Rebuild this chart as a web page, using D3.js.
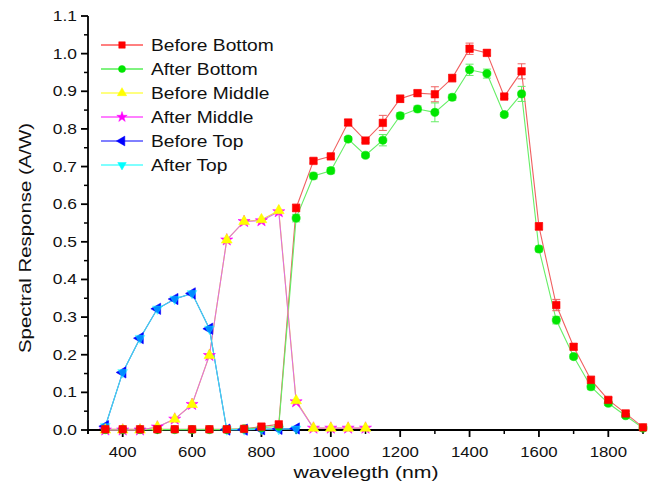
<!DOCTYPE html>
<html>
<head>
<meta charset="utf-8">
<script src="https://cdn.jsdelivr.net/npm/d3@7"></script>
<style>
  html, body { margin: 0; padding: 0; background: #fff; }
  svg { display: block; font-family: Arial, "Liberation Sans", sans-serif; }
</style>
</head>
<body>
<svg id="chart" width="651" height="493"></svg>
<script>
// Wavelength grids (nm)
const wlBottom = [350,400,450,500,550,600,650,700,750,800,850,900,950,1000,1050,1100,1150,1200,1250,1300,1350,1400,1450,1500,1550,1600,1650,1700,1750,1800,1850,1900];
const wlMiddle = [350,400,450,500,550,600,650,700,750,800,850,900,950,1000,1050,1100];
const wlTop = [350,400,450,500,550,600,650,700,750,800,850,900];

// Spectral response (A/W)
const beforeBottom = [0.002,0.002,0.002,0.002,0.002,0.002,0.002,0.002,0.003,0.009,0.015,0.59,0.715,0.727,0.817,0.769,0.816,0.88,0.895,0.892,0.935,1.013,1.002,0.886,0.953,0.541,0.332,0.221,0.133,0.08,0.044,0.007];
const afterBottom  = [0.001,0.001,0.001,0.001,0.001,0.001,0.001,0.001,0.003,0.006,0.01,0.563,0.675,0.689,0.773,0.73,0.77,0.835,0.853,0.844,0.884,0.957,0.947,0.838,0.893,0.481,0.292,0.195,0.115,0.071,0.038,0.005];
const beforeBottomErr = [0,0,0,0,0,0,0,0,0,0,0,0.01,0.006,0.006,0.008,0.005,0.02,0.01,0.008,0.02,0.01,0.015,0.008,0.005,0.02,0.01,0.015,0.008,0.01,0.006,0.006,0.003];
const afterBottomErr  = [0,0,0,0,0,0,0,0,0,0,0,0.01,0.008,0.008,0.006,0.005,0.015,0.008,0.008,0.025,0.008,0.015,0.012,0.005,0.02,0.008,0.01,0.006,0.008,0.006,0.005,0.003];
const beforeMiddle = [0,0,0,0.008,0.029,0.068,0.198,0.505,0.554,0.559,0.583,0.078,0.005,0.005,0.005,0.005];
const afterMiddle  = [0,0,0,0.008,0.029,0.068,0.198,0.505,0.554,0.556,0.58,0.075,0.005,0.005,0.005,0.005];
const beforeTop = [0.01,0.153,0.244,0.322,0.348,0.363,0.269,0.001,0.001,0.002,0.003,0.004];
const afterTop  = [0.01,0.153,0.244,0.322,0.348,0.363,0.269,0.001,0.001,0.002,0.002,0.003];

const seriesNames = ["Before Bottom","After Bottom","Before Middle","After Middle","Before Top","After Top"];
const xTicks = [400,600,800,1000,1200,1400,1600,1800];
const yTicks = [0,0.1,0.2,0.3,0.4,0.5,0.6,0.7,0.8,0.9,1.0,1.1];

// order: the list below is the legend order; `layer` sets marker stacking
const series = [
  {name: seriesNames[0], x: wlBottom, y: beforeBottom, err: beforeBottomErr, color: "#ff0000", line: "#f06060", sym: d3.symbolSquare, size: 56, rot: 0, layer: 6, op: 1},
  {name: seriesNames[1], x: wlBottom, y: afterBottom, err: afterBottomErr, color: "#00e600", line: "#66ee66", sym: d3.symbolCircle, size: 52, rot: 0, layer: 5, op: 1},
  {name: seriesNames[2], x: wlMiddle, y: beforeMiddle, color: "#ffff00", line: "#f2e040", sym: d3.symbolTriangle, size: 50, rot: 0, layer: 4, op: 1},
  {name: seriesNames[3], x: wlMiddle, y: afterMiddle, color: "#ff00ff", line: "#e070e0", sym: d3.symbolStar, size: 45, rot: 0, layer: 3, op: 1},
  {name: seriesNames[4], x: wlTop, y: beforeTop, color: "#0000ff", line: "#4060e0", sym: d3.symbolTriangle, size: 55, rot: -90, layer: 1, op: 1},
  {name: seriesNames[5], x: wlTop, y: afterTop, color: "#00ffff", line: "#40d8f0", sym: d3.symbolTriangle, size: 42, rot: 180, layer: 2, op: 0.55}
];

const svg = d3.select("#chart");
const m = {left: 88, right: 643, top: 16, bottom: 430};
const stretch = 1.2;   // wide lettering used throughout the figure

const x = d3.scaleLinear().domain([300, 1900]).range([m.left, m.right]);
const y = d3.scaleLinear().domain([0, 1.1]).range([m.bottom, m.top]);

// Places a horizontally widened label at (px, py), optionally rotated
function label(parent, px, py, txt, size, anchor, rot = 0, sx = stretch) {
  return parent.append("text")
    .attr("transform", `translate(${px},${py}) rotate(${rot}) scale(${sx},1)`)
    .attr("text-anchor", anchor).attr("font-size", size).attr("fill", "#111").text(txt);
}

// Axes: major ticks labelled, minor ticks between
const xAxis = svg.append("g").attr("transform", `translate(0,${m.bottom})`);
xAxis.append("line").attr("x1", m.left - 1).attr("x2", m.right).attr("stroke", "#000").attr("stroke-width", 1.8);
const xMinor = d3.range(300, 1901, 200);
xAxis.selectAll(".xminor").data(xMinor).join("line")
  .attr("x1", d => x(d)).attr("x2", d => x(d)).attr("y1", 0).attr("y2", 4)
  .attr("stroke", "#000").attr("stroke-width", 1.5);
xAxis.selectAll(".xmajor").data(xTicks).join("line")
  .attr("x1", d => x(d)).attr("x2", d => x(d)).attr("y1", 0).attr("y2", 7)
  .attr("stroke", "#000").attr("stroke-width", 1.8);
xTicks.forEach(t => label(xAxis, x(t), 27, t, 15, "middle", 0, 1.12));

const yAxis = svg.append("g").attr("transform", `translate(${m.left},0)`);
yAxis.append("line").attr("y1", m.top).attr("y2", m.bottom + 4).attr("stroke", "#000").attr("stroke-width", 1.8);
const yMinor = d3.range(0.05, 1.1, 0.1);
yAxis.selectAll(".yminor").data(yMinor).join("line")
  .attr("y1", d => y(d)).attr("y2", d => y(d)).attr("x1", 0).attr("x2", -4)
  .attr("stroke", "#000").attr("stroke-width", 1.5);
yAxis.selectAll(".ymajor").data(yTicks).join("line")
  .attr("y1", d => y(d)).attr("y2", d => y(d)).attr("x1", 0).attr("x2", -7)
  .attr("stroke", "#000").attr("stroke-width", 1.8);
yTicks.forEach(t => label(yAxis, -11, y(t) + 5, t.toFixed(1), 14.5, "end"));

// Axis titles
label(svg, 366, 478, "wavelegth (nm)", 17, "middle", 0, 1.25);
label(svg, 31, 238, "Spectral Response (A/W)", 17, "middle", -90, 1.2);

const line = d3.line().x(d => x(d[0])).y(d => y(d[1]));
const plot = svg.append("g");

// Connecting lines
series.forEach(s => {
  const pts = s.x.map((v, i) => [v, s.y[i]]);
  plot.append("path").datum(pts).attr("d", line)
    .attr("fill", "none").attr("stroke", s.line).attr("stroke-width", 1.1);
});

// Error bars
series.filter(s => s.err).forEach(s => {
  const g = plot.append("g").attr("stroke", s.line).attr("stroke-width", 1);
  s.x.forEach((v, i) => {
    const e = s.err[i];
    if (!e) return;
    const cx = x(v), y0 = y(s.y[i] - e), y1 = y(s.y[i] + e);
    g.append("line").attr("x1", cx).attr("x2", cx).attr("y1", y0).attr("y2", y1);
    g.append("line").attr("x1", cx - 4).attr("x2", cx + 4).attr("y1", y0).attr("y2", y0);
    g.append("line").attr("x1", cx - 4).attr("x2", cx + 4).attr("y1", y1).attr("y2", y1);
  });
});

// Markers
series.slice().sort((a, b) => a.layer - b.layer).forEach(s => {
  const sym = d3.symbol().type(s.sym).size(s.size);
  plot.append("g").selectAll("path").data(s.x.map((v, i) => [v, s.y[i]])).join("path")
    .attr("d", sym)
    .attr("transform", d => `translate(${x(d[0])},${y(d[1])}) rotate(${s.rot})`)
    .attr("fill", s.color).attr("fill-opacity", s.op)
    .attr("stroke", s.color).attr("stroke-opacity", s.op).attr("stroke-width", 0.6);
});

// Legend
const leg = svg.append("g");
series.forEach((s, i) => {
  const ly = 45 + i * 24;
  leg.append("line").attr("x1", 101).attr("x2", 143).attr("y1", ly).attr("y2", ly)
    .attr("stroke", s.color).attr("stroke-width", 1);
  leg.append("path").attr("d", d3.symbol().type(s.sym).size(s.size * 0.75))
    .attr("transform", `translate(122,${ly}) rotate(${s.rot})`)
    .attr("fill", s.color).attr("stroke", s.color).attr("stroke-width", 0.5);
  label(leg, 151, ly + 6, s.name, 16, "start", 0, 1.2);
});
</script>
</body>
</html>
